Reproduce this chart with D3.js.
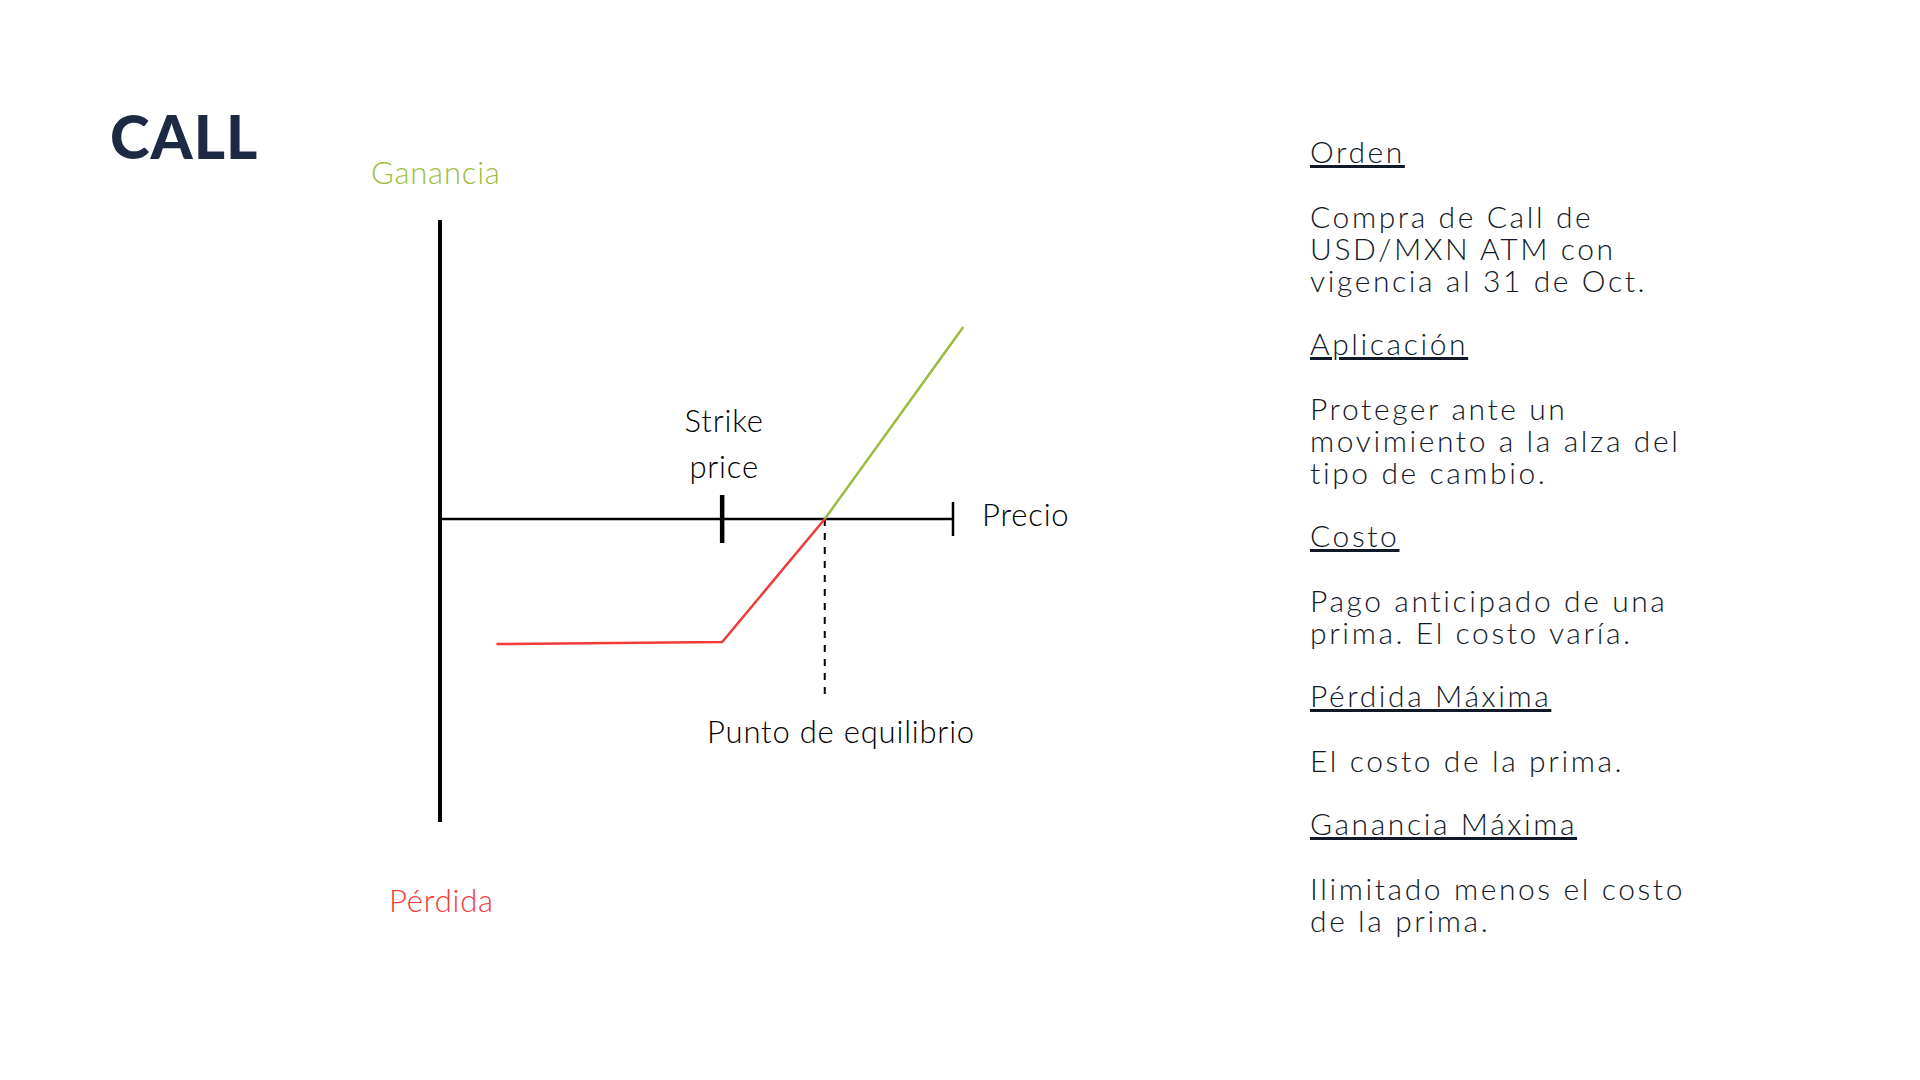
<!DOCTYPE html>
<html><head><meta charset="utf-8">
<script src="https://cdn.jsdelivr.net/npm/d3@7"></script>
<style>body{margin:0;background:#fff}text{font-family:Lato,"Open Sans",sans-serif}</style>
</head><body><div id="chart"></div>
<script>
// payoff of a long call: price vs profit
var lossPrice = [11, 55, 75];
var lossValue = [-125, -123, 0];
var gainPrice = [75, 102];
var gainValue = [0, 192];
var strike = 55;
var breakEven = 75;
var headings = ["Orden", "Aplicación", "Costo", "Pérdida Máxima", "Ganancia Máxima"];
var bodies = [
  ["Compra de Call de", "USD/MXN ATM con", "vigencia al 31 de Oct."],
  ["Proteger ante un", "movimiento a la alza del", "tipo de cambio."],
  ["Pago anticipado de una", "prima. El costo varía."],
  ["El costo de la prima."],
  ["Ilimitado menos el costo", "de la prima."]
];

var w = 1920, h = 1080;
var svg = d3.select("#chart").append("svg").attr("width", w).attr("height", h);

var x = d3.scaleLinear().domain([0, 100]).range([440, 953]);
var y = d3.scaleLinear().domain([0, 100]).range([519, 419]);

svg.append("text").attr("x", 110).attr("y", 159).attr("font-size", 60)
   .attr("font-weight", 900).attr("letter-spacing", 1).attr("fill", "#1e2a45").text("CALL");

// axes
svg.append("line").attr("x1", x(0)).attr("x2", x(0)).attr("y1", 220).attr("y2", 822)
   .attr("stroke", "#000").attr("stroke-width", 4);
svg.append("line").attr("x1", x(0)).attr("x2", x(100)).attr("y1", y(0)).attr("y2", y(0))
   .attr("stroke", "#000").attr("stroke-width", 2.5);
svg.append("line").attr("x1", x(100)).attr("x2", x(100)).attr("y1", y(0) - 17).attr("y2", y(0) + 17)
   .attr("stroke", "#000").attr("stroke-width", 2.5);
svg.append("line").attr("x1", x(strike)).attr("x2", x(strike)).attr("y1", y(0) - 24).attr("y2", y(0) + 24)
   .attr("stroke", "#000").attr("stroke-width", 4.5);
svg.append("line").attr("x1", x(breakEven)).attr("x2", x(breakEven)).attr("y1", y(0)).attr("y2", 698)
   .attr("stroke", "#000").attr("stroke-width", 2).attr("stroke-dasharray", "7,7");

var line = d3.line().x(function(d) { return x(d[0]); }).y(function(d) { return y(d[1]); });
svg.append("path").attr("d", line(d3.zip(lossPrice, lossValue)))
   .attr("fill", "none").attr("stroke", "#f33a3a").attr("stroke-width", 2.5);
svg.append("path").attr("d", line(d3.zip(gainPrice, gainValue)))
   .attr("fill", "none").attr("stroke", "#9bbd3c").attr("stroke-width", 2.5);

function label(t, px, py, color, anchor) {
  svg.append("text").attr("x", px).attr("y", py).attr("font-size", 31)
     .attr("letter-spacing", 0.8).attr("font-weight", 300)
     .attr("fill", color).attr("text-anchor", anchor || "start").text(t);
}
label("Ganancia", 371, 184, "#9bbd3c");
label("Pérdida", 389, 912, "#f33a3a");
label("Strike", x(strike) + 2, 432, "#000", "middle");
label("price", x(strike) + 2, 478, "#000", "middle");
label("Precio", 982, 526, "#000");
label("Punto de equilibrio", 841, 743, "#000", "middle");

// right-hand notes
var tops = [163, 355, 547, 707, 835];
headings.forEach(function(hd, i) {
  svg.append("text").attr("x", 1310).attr("y", tops[i]).attr("font-size", 30)
     .attr("letter-spacing", 2.6).attr("font-weight", 300).attr("fill", "#111827")
     .attr("text-decoration", "underline").text(hd);
  bodies[i].forEach(function(b, j) {
    svg.append("text").attr("x", 1310).attr("y", tops[i] + 65 + j * 32).attr("font-size", 30)
       .attr("letter-spacing", 2.6).attr("font-weight", 300).attr("fill", "#111827").text(b);
  });
});
</script></body></html>
